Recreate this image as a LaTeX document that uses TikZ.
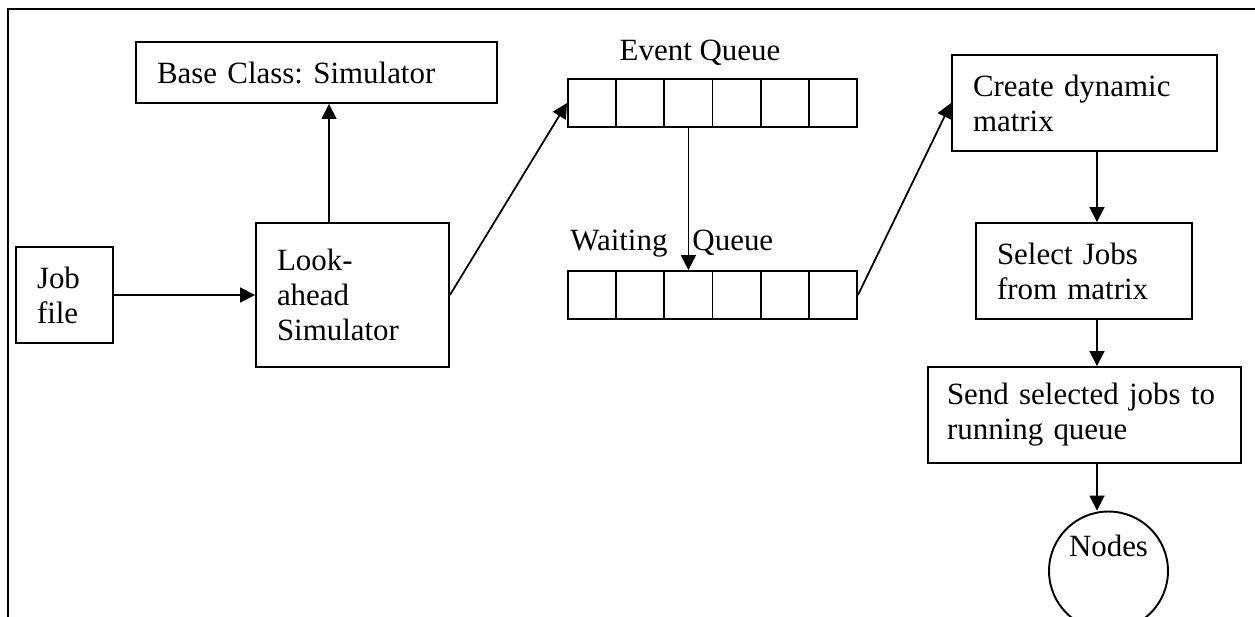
\documentclass[tikz,border=0pt]{standalone}
\usepackage{fontspec}
\setmainfont{Liberation Serif}
\frenchspacing
\usetikzlibrary{arrows.meta, positioning}

\begin{document}
\begin{tikzpicture}[
    x=0.02cm, y=-0.02cm,
    >={Triangle[length=0.3cm, width=0.3cm]}, % Set default arrow tip style
    box/.style={draw, line width=1.1pt, align=left, inner xsep=0.42cm, inner ysep=0pt,
                font=\fontsize{17.6}{20}\selectfont}, % Style for the process boxes
    cell/.style={draw, line width=1.1pt, minimum width=0.963cm, minimum height=0.96cm,
                 inner sep=0pt}, % Style for one queue slot
    flow/.style={->, line width=1pt}, % Style for the connectors
    qlabel/.style={font=\fontsize{17.6}{20}\selectfont, inner sep=0pt} % Style for queue names
]

    % Page size and outer frame
    \useasboundingbox (0,0) rectangle (1255,616);
    \clip (0,0) rectangle (1255,616);
    \draw[line width=1.3pt] (8,9) rectangle (1290,660);

    % Left part
    \node[box, text width=6.38cm, minimum height=1.22cm] (base) at (316.5,72.5) {Base Class: Simulator};
    \node[box, text width=1.1cm, minimum height=1.92cm] (job) at (64.5,295) {Job\\file};
    \node[box, text width=3.02cm, minimum height=2.88cm] (look) at (352.5,295) {Look-\\ahead\\Simulator};

    % Event queue and waiting queue, six slots each
    \foreach \i in {1,...,6} {
        \node[cell] (eq\i) at ({568+48.17*(\i-0.5)},103) {};
        \node[cell] (wq\i) at ({568+48.17*(\i-0.5)},295) {};
    }
    \node[qlabel, anchor=base] (eqname) at (700,60) {Event Queue};
    \node[qlabel, anchor=base west] (wqname) at (570,250) {Waiting\hspace{0.5cm}Queue};

    % Right column
    \node[box, text width=4.46cm, minimum height=1.92cm] (create) at (1084.5,103) {Create dynamic\\matrix};
    \node[box, text width=3.48cm, minimum height=1.92cm] (select) at (1084,271) {Select Jobs\\from matrix};
    \node[box, text width=5.5cm, inner xsep=0.38cm, minimum height=1.92cm] (send) at (1084.5,415) {Send selected jobs to\\running queue};
    \node[draw, circle, line width=1.1pt, minimum size=2.38cm, inner sep=0pt,
          text height=0.4cm, text depth=1.0cm, font=\fontsize{17.6}{20}\selectfont] (nodes) at (1108.5,571) {Nodes};

    % Columns the vertical arrows run in
    \coordinate (up) at (329,0);
    \coordinate (col) at (1097,0);

    % Connectors
    \draw[flow] (job) -- (look);
    \draw[flow] (look.north -| up) -- (base.south -| up);
    \draw[flow] (look.east) -- (eq1.west);
    \draw[flow] (eq3.south) -- (wq3.north);
    \draw[flow] (wq6.east) -- (create.west);
    \draw[flow] (create.south -| col) -- (select.north -| col);
    \draw[flow] (select.south -| col) -- (send.north -| col);
    \draw[flow] (send.south -| col) -- (nodes.north -| col);

\end{tikzpicture}
\end{document}
